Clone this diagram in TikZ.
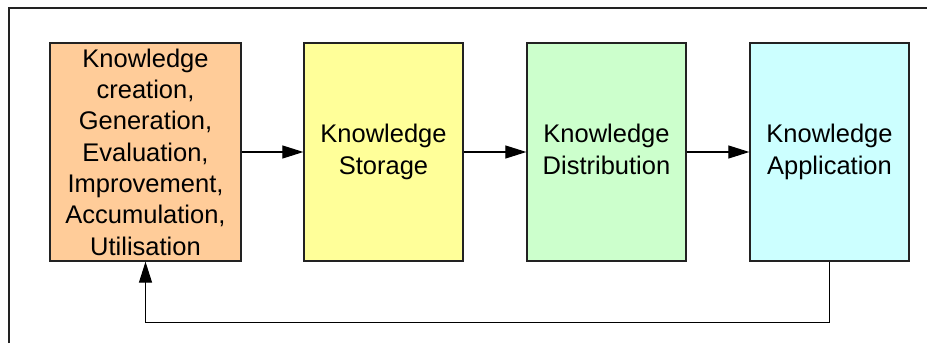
\documentclass[tikz,border=0pt]{standalone}
\usepackage{fontspec}
\setmainfont{Liberation Sans}
\usetikzlibrary{arrows.meta}
\definecolor{kcreate}{HTML}{FFCC99}
\definecolor{kstore}{HTML}{FFFF99}
\definecolor{kdist}{HTML}{CCFFCC}
\definecolor{kapply}{HTML}{CCFFFF}
\definecolor{edge}{HTML}{222222}
\tikzset{
  stage/.style={draw=edge, line width=1.3pt, minimum height=218pt, inner sep=2pt,
    align=center, font=\fontsize{25.5}{31.3}\selectfont},
  flow/.style={draw=black, line width=1.1pt, -{Triangle[length=21pt,width=13pt]}},
  frame/.style={draw=edge, line width=1.4pt}
}
\begin{document}
\begin{tikzpicture}[x=1pt,y=-1pt]
  \useasboundingbox (0,0) rectangle (927,343);
  % surrounding frame, open to the right and bottom
  \draw[frame] (9,343) -- (9,8) -- (927,8);

  % the four stages (two-line labels padded to a common descender depth)
  \node[stage, fill=kcreate, minimum width=191pt] (create) at (145.5,152)
    {Knowledge\\creation,\\Generation,\\Evaluation,\\Improvement,\\Accumulation,\\Utilisation};
  \node[stage, fill=kstore, minimum width=159pt] (store) at (383.5,152)
    {Knowledge\\Storage\vphantom{g}};
  \node[stage, fill=kdist, minimum width=159pt] (dist) at (606.5,152)
    {Knowledge\\Distribution\vphantom{g}};
  \node[stage, fill=kapply, minimum width=159pt] (apply) at (829.5,152)
    {Knowledge\\Application\vphantom{g}};

  % forward flow
  \draw[flow] (create) -- (store);
  \draw[flow] (store) -- (dist);
  \draw[flow] (dist) -- (apply);

  % feedback loop
  \draw[flow] (apply.south) -- ++(0,61) coordinate (loop) -| (create.south);
\end{tikzpicture}
\end{document}
